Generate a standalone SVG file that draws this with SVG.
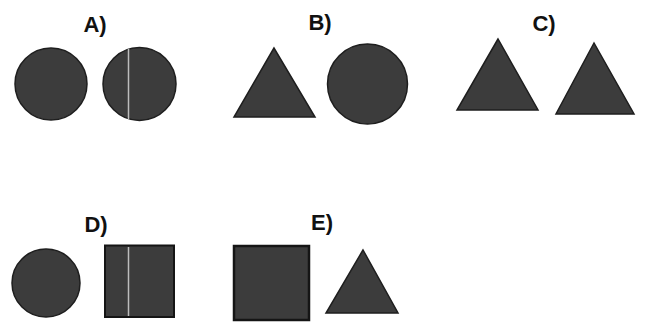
<svg xmlns="http://www.w3.org/2000/svg" width="648" height="322" viewBox="0 0 648 322">
<style>
.lbl{font-family:"Liberation Sans",Arial,sans-serif;font-weight:bold;font-size:22px;fill:#111;text-anchor:middle}
.sh{fill:#3c3c3c;stroke:#1e1e1e;stroke-width:1.5}
.split{stroke:#bdbdbd;stroke-width:1.5}
</style>
<rect width="648" height="322" fill="#fff"/>
<g id="A">
<text class="lbl" x="95" y="32">A)</text>
<circle class="sh" cx="51" cy="84" r="36"/>
<circle class="sh" cx="139.5" cy="84" r="36.5"/>
<line class="split" x1="128.5" y1="49" x2="128.5" y2="119"/>
</g>
<g id="B">
<text class="lbl" x="320" y="30">B)</text>
<polygon class="sh" points="274,48 234,117 315,117"/>
<circle class="sh" cx="367.5" cy="84" r="40"/>
</g>
<g id="C">
<text class="lbl" x="544" y="31">C)</text>
<polygon class="sh" points="498,39 457,110 538,110"/>
<polygon class="sh" points="594,43 556,114 634,114"/>
</g>
<g id="D">
<text class="lbl" x="96" y="232">D)</text>
<circle class="sh" cx="46" cy="283" r="34"/>
<rect class="sh" x="105" y="245.5" width="69" height="71.5" style="stroke:#151515;stroke-width:2"/>
<line class="split" x1="128.5" y1="247" x2="128.5" y2="316"/>
</g>
<g id="E">
<text class="lbl" x="322" y="230">E)</text>
<rect class="sh" x="234" y="246" width="75" height="74" style="stroke:#151515;stroke-width:2.5"/>
<polygon class="sh" points="363,250 326,313 398,313"/>
</g>
<g id="connectors"></g>
</svg>
